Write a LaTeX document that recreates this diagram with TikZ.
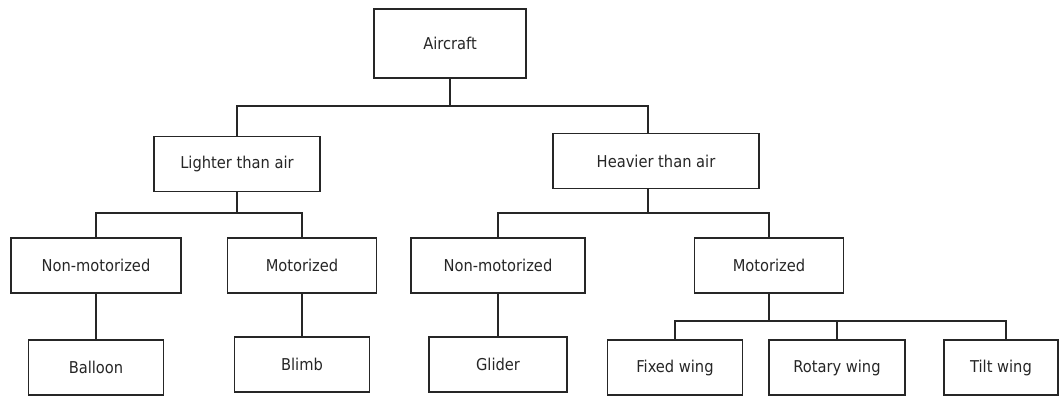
\documentclass[tikz,border=0pt]{standalone}
\usepackage{fontspec}
\setmainfont{DejaVu Sans Condensed}
\begin{document}
\begin{tikzpicture}[x=1pt,y=-1pt,
  box/.style={draw=black!85,line width=1.3pt,inner sep=0pt,minimum height=55pt,
    font=\fontsize{16.3}{19}\selectfont,text=black!85},
  link/.style={draw=black!85,line width=1.3pt}]
\useasboundingbox (0,0) rectangle (1059,396);
\fill[white] (0,0) rectangle (1059,396);

% rows of the horizontal fork lines
\coordinate (r1) at (0,106);
\coordinate (r2) at (0,213);
\coordinate (r3) at (0,321);

% boxes
\node[box,minimum width=152pt,minimum height=69pt] (air) at (450,43.5) {Aircraft};
\node[box,minimum width=166pt] (lta) at (237,164) {Lighter than air};
\node[box,minimum width=206pt] (hta) at (656,161) {Heavier than air};
\node[box,minimum width=170pt] (nml) at (96,265.5) {Non-motorized};
\node[box,minimum width=149pt] (mol) at (302,265.5) {Motorized};
\node[box,minimum width=174pt] (nmr) at (498,265.5) {Non-motorized};
\node[box,minimum width=149pt] (mor) at (769,265.5) {Motorized};
\node[box,minimum width=135pt] (balloon) at (96,367.5) {Balloon};
\node[box,minimum width=135pt] (blimb) at (302,364.5) {Blimb};
\node[box,minimum width=138pt] (glider) at (498,364.5) {Glider};
\node[box,minimum width=135pt] (fixed) at (675,367.5) {Fixed wing};
\node[box,minimum width=136pt] (rotary) at (837,367.5) {Rotary wing};
\node[box,minimum width=114pt] (tilt) at (1001,367.5) {Tilt wing};

% Aircraft -> lighter / heavier
\draw[link] (air.south) -- (air.south |- r1);
\draw[link] (lta.north) |- ([xshift=-8pt]hta.north |- r1) -- ([xshift=-8pt]hta.north);

% Lighter than air -> its two classes
\draw[link] (lta.south) -- (lta.south |- r2);
\draw[link] (nml.north) |- (mol.north |- r2) -- (mol.north);

% Heavier than air -> its two classes
\draw[link] ([xshift=-8pt]hta.south) -- ([xshift=-8pt]hta.south |- r2);
\draw[link] (nmr.north) |- (mor.north |- r2) -- (mor.north);

% single children
\draw[link] (nml.south) -- (balloon.north);
\draw[link] (mol.south) -- (blimb.north);
\draw[link] (nmr.south) -- (glider.north);

% motorized heavier than air -> wing types
\draw[link] (mor.south) -- (mor.south |- r3);
\draw[link] (fixed.north) |- ([xshift=5pt]tilt.north |- r3) -- ([xshift=5pt]tilt.north);
\draw[link] (rotary.north) -- (rotary.north |- r3);
\end{tikzpicture}
\end{document}
